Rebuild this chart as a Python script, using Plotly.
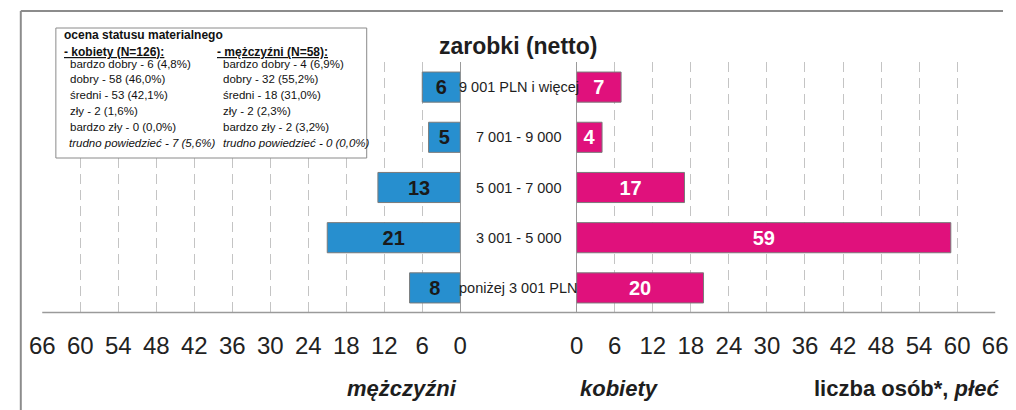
import plotly.graph_objects as go

# ---- data ----
categories = ["9 001 PLN i więcej", "7 001 - 9 000", "5 001 - 7 000", "3 001 - 5 000", "poniżej 3 001 PLN"]
men = [6, 5, 13, 21, 8]
women = [7, 4, 17, 59, 20]
tick_vals = list(range(0, 67, 6))

legend_women = ["bardzo dobry - 6 (4,8%)", "dobry - 58 (46,0%)", "średni - 53 (42,1%)",
                "zły - 2 (1,6%)", "bardzo zły - 0 (0,0%)", "trudno powiedzieć - 7 (5,6%)"]
legend_men = ["bardzo dobry - 4 (6,9%)", "dobry - 32 (55,2%)", "średni - 18 (31,0%)",
              "zły - 2 (2,3%)", "bardzo zły - 2 (3,2%)", "trudno powiedzieć - 0 (0,0%)"]

W, H = 1016, 410
def px(x): return x / W
def py(y): return 1 - y / H

SANS = "Liberation Sans, Arial, Helvetica, sans-serif"
BLUE = "#278fcf"
PINK = "#e0117c"
GRID = "#c4c4c4"
LINE = "#9a9a9a"

fig = go.Figure()
fig.add_trace(go.Bar(
    y=categories, x=men, orientation="h", xaxis="x", yaxis="y", width=0.6,
    marker=dict(color=BLUE, line=dict(color="#7a7a7a", width=1)),
    text=men, texttemplate="<b>%{x}</b>", textposition="inside", insidetextanchor="middle",
    textfont=dict(family=SANS, size=20, color="#1a1a1a"), constraintext="none",
    hoverinfo="skip", showlegend=False,
))
fig.add_trace(go.Bar(
    y=categories, x=women, orientation="h", xaxis="x2", yaxis="y", width=0.6,
    marker=dict(color=PINK, line=dict(color="#7a7a7a", width=1)),
    text=women, texttemplate="<b>%{x}</b>", textposition="inside", insidetextanchor="middle",
    textfont=dict(family=SANS, size=20, color="white"), constraintext="none",
    hoverinfo="skip", showlegend=False,
))

axis_common = dict(
    tickvals=tick_vals, ticktext=[str(v) for v in tick_vals],
    showgrid=True, gridcolor=GRID, griddash="10px,6px", gridwidth=1,
    zeroline=True, zerolinecolor=LINE, zerolinewidth=1,
    showline=False, ticks="", ticklabeloverflow="allow",
    tickfont=dict(family=SANS, size=24, color="#222222"),
    ticklabelstandoff=16, fixedrange=True,
)
fig.update_layout(
    width=W, height=H, autosize=False,
    margin=dict(l=0, r=0, t=0, b=0, pad=0),
    paper_bgcolor="white", plot_bgcolor="white",
    xaxis=dict(domain=[px(30), px(459)], range=[66, 0], anchor="y", **axis_common),
    xaxis2=dict(domain=[px(578.5), px(1008)], range=[0, 66], anchor="y", **axis_common),
    yaxis=dict(domain=[py(313), py(62)], type="category", categoryorder="array",
               categoryarray=categories, range=[4.5, -0.5], showticklabels=False,
               showgrid=False, zeroline=False, showline=False, fixedrange=True),
)

shapes = [
    # outer frame (top and left)
    dict(type="line", xref="paper", yref="paper", x0=px(8), x1=px(1016), y0=py(11), y1=py(11),
         line=dict(color="#8c8c8c", width=2)),
    dict(type="line", xref="paper", yref="paper", x0=px(8), x1=px(8), y0=py(11), y1=py(410),
         line=dict(color="#8c8c8c", width=2)),
    # bottom axis line across both axes
    dict(type="line", xref="paper", yref="paper", x0=px(30), x1=px(1008), y0=py(312.5), y1=py(312.5),
         line=dict(color=LINE, width=1.5)),
    # legend box
    dict(type="rect", xref="paper", yref="paper", x0=px(44), x1=px(363), y0=py(158), y1=py(28),
         line=dict(color="#8a8a8a", width=1), fillcolor="white", layer="above"),
]

annotations = []
def ann(text, x, y, size, family=SANS, xanchor="left", color="#1e1e1e", yanchor="middle"):
    annotations.append(dict(text=text, x=px(x), y=py(y), xref="paper", yref="paper",
                            xanchor=xanchor, yanchor=yanchor, showarrow=False,
                            font=dict(family=family, size=size, color=color)))

# title
ann("<b>zarobki (netto)</b>", 518, 46, 23, xanchor="center")
# category labels in the middle
for c in categories:
    annotations.append(dict(text=c, x=px(519), y=c, xref="paper", yref="y",
                            xanchor="center", yanchor="middle", showarrow=False,
                            font=dict(family=SANS, size=14.5, color="#1e1e1e")))
# axis titles
ann("<b><i>mężczyźni</i></b>", 458, 388, 22, xanchor="right")
ann("<b><i>kobiety</i></b>", 580, 388, 22, xanchor="left")
ann("<b>liczba osób*, <i>płeć</i></b>", 1014, 388, 22, xanchor="right")

# legend box text
ann("<b>ocena statusu materialnego</b>", 50, 35, 12, color="#111111")
ann("<b><u>- kobiety (N=126):</u></b>", 50, 52, 12, color="#111111")
ann("<b><u>- mężczyźni (N=58):</u></b>", 207, 52, 12, color="#111111")
ys = [64, 79.5, 95.2, 111, 126.7, 142.5]
for i, (tw, tm) in enumerate(zip(legend_women, legend_men)):
    if i == len(legend_women) - 1:
        tw, tm = f"<i>{tw}</i>", f"<i>{tm}</i>"
        xw = 55
    else:
        xw = 56
    ann(tw, xw, ys[i], 11.5, color="#111111")
    ann(tm, 213, ys[i], 11.5, color="#111111")

fig.update_layout(shapes=shapes, annotations=annotations)

page_fix = (
    "var h=document.documentElement.style, b=document.body.style;"
    "h.margin='0';h.padding='0';h.overflow='hidden';"
    "b.margin='0';b.padding='0';b.overflow='hidden';"
)
fig.write_html("out.html",
               config={"displayModeBar": False, "responsive": False, "staticPlot": True},
               post_script=page_fix)
